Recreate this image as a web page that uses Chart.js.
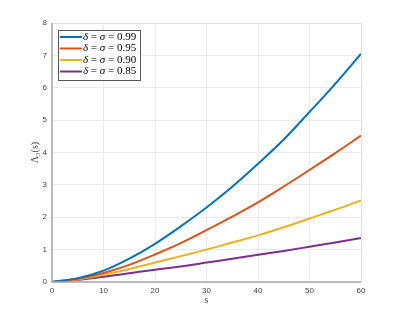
<!DOCTYPE html>
<html>
<head>
<meta charset="utf-8">
<script src="https://cdn.jsdelivr.net/npm/chart.js@4/dist/chart.umd.min.js"></script>
<style>
  html, body { margin: 0; padding: 0; background: #fff; }
  #wrap { width: 399px; height: 317px; }
</style>
</head>
<body>
<div id="wrap"><canvas id="lambdaChart" width="399" height="317"></canvas></div>
<script>
// data
const sValues = [0, 5, 10, 15, 20, 25, 30, 35, 40, 45, 50, 55, 60];
const params = ["0.99", "0.95", "0.90", "0.85"];
const lambda099 = [0, 0.12, 0.35, 0.72, 1.18, 1.72, 2.3, 2.94, 3.65, 4.4, 5.25, 6.12, 7.05];
const lambda095 = [0, 0.1, 0.28, 0.53, 0.85, 1.2, 1.6, 2.02, 2.46, 2.95, 3.46, 3.98, 4.52];
const lambda090 = [0, 0.08, 0.22, 0.4, 0.6, 0.8, 1.0, 1.22, 1.44, 1.69, 1.96, 2.23, 2.52];
const lambda085 = [0, 0.06, 0.16, 0.27, 0.38, 0.48, 0.6, 0.72, 0.84, 0.96, 1.09, 1.22, 1.36];
const xTicks = [0, 10, 20, 30, 40, 50, 60];
const yTicks = [0, 1, 2, 3, 4, 5, 6, 7, 8];

const colors = ["#0072BD", "#D95319", "#EDB120", "#7E2F8E"];
const series = [lambda099, lambda095, lambda090, lambda085];

function toPoints(arr) {
    return arr.map((v, i) => ({ x: sValues[i], y: v }));
}

// legend drawn like matlab: boxed, top-left inside axes
const boxLegend = {
    id: "boxLegend",
    afterDraw(chart) {
        const c = chart.ctx;
        const area = chart.chartArea;
        const x0 = area.left + 6, y0 = area.top + 7;
        const w = 82, h = 50, row = 11.5;
        c.save();
        c.fillStyle = "#fff";
        c.fillRect(x0, y0, w, h);
        c.strokeStyle = "#555";
        c.lineWidth = 1;
        c.strokeRect(x0 + 0.5, y0 + 0.5, w, h);
        chart.data.datasets.forEach((ds, i) => {
            const y = y0 + 7 + i * row;
            c.strokeStyle = ds.borderColor;
            c.lineWidth = 2;
            c.beginPath();
            c.moveTo(x0 + 2, y);
            c.lineTo(x0 + 24, y);
            c.stroke();
            c.fillStyle = "#000";
            c.textBaseline = "middle";
            let tx = x0 + 25;
            const parts = [
                ["italic 11px 'Liberation Serif'", "δ"],
                ["11px 'Liberation Serif'", " = "],
                ["italic 11px 'Liberation Serif'", "σ"],
                ["11px 'Liberation Serif'", " = " + params[i]]
            ];
            parts.forEach(p => {
                c.font = p[0];
                c.fillText(p[1], tx, y);
                tx += c.measureText(p[1]).width;
            });
        });
        c.restore();
    }
};

// box around the axes
const axesBox = {
    id: "axesBox",
    afterDraw(chart) {
        const c = chart.ctx;
        const a = chart.chartArea;
        c.save();
        c.strokeStyle = "#e0e0e0";
        c.lineWidth = 1;
        c.beginPath();
        c.moveTo(a.left, a.top + 0.5);
        c.lineTo(a.right + 0.5, a.top + 0.5);
        c.lineTo(a.right + 0.5, a.bottom);
        c.stroke();
        c.strokeStyle = "#a6a6a6";
        c.lineWidth = 1.5;
        c.beginPath();
        c.moveTo(a.left, a.top);
        c.lineTo(a.left, a.bottom);
        c.lineTo(a.right, a.bottom);
        c.stroke();
        c.restore();
    }
};

const ctx = document.getElementById("lambdaChart").getContext("2d");
const lambdaChart = new Chart(ctx, {
    type: "line",
    data: {
        datasets: series.map((arr, i) => ({
            label: "δ = σ = " + params[i],
            data: toPoints(arr),
            borderColor: colors[i],
            backgroundColor: colors[i],
            borderWidth: 2,
            pointRadius: 0,
            cubicInterpolationMode: "monotone",
            fill: false
        }))
    },
    options: {
        responsive: false,
        animation: false,
        layout: { padding: { top: 23, right: 38, bottom: 7, left: 29 } },
        plugins: {
            legend: { display: false },
            tooltip: { enabled: false }
        },
        scales: {
            x: {
                type: "linear",
                min: 0,
                max: 60,
                afterBuildTicks: s => { s.ticks = xTicks.map(v => ({ value: v })); },
                afterFit: s => { s.height = 28; },
                grid: { color: "#ebebeb", drawTicks: false },
                border: { display: false },
                ticks: { color: "#444", font: { size: 8, family: "Liberation Sans" }, padding: 4, maxRotation: 0 },
                title: { display: true, text: "s", color: "#444", font: { size: 10, family: "Liberation Serif" }, padding: { top: 3 } }
            },
            y: {
                min: 0,
                max: 8,
                afterBuildTicks: s => { s.ticks = yTicks.map(v => ({ value: v })); },
                afterFit: s => { s.width = 23; },
                grid: { color: "#ebebeb", drawTicks: false },
                border: { display: false },
                ticks: { color: "#444", font: { size: 8, family: "Liberation Sans" }, padding: 5 },
                title: { display: true, text: "Λ₃(s)", color: "#444", font: { size: 10, family: "Liberation Serif" }, padding: 0 }
            }
        }
    },
    plugins: [axesBox, boxLegend]
});
</script>
</body>
</html>
